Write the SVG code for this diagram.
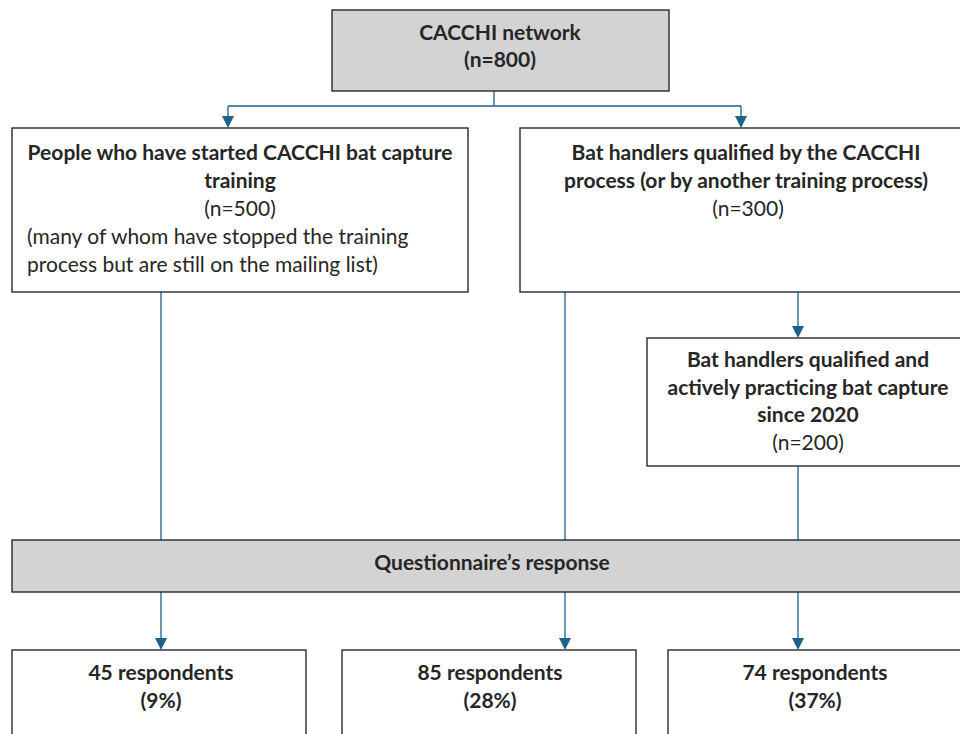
<svg xmlns="http://www.w3.org/2000/svg" width="960" height="734" viewBox="0 0 960 734">
<defs>
<style>
.box{fill:#ffffff;stroke:#1a1a1a;stroke-width:1.3}
.gbox{fill:#d3d3d3;stroke:#1a1a1a;stroke-width:1.3}
.t{font-family:Lato,Carlito,"Liberation Sans",sans-serif;font-size:21px;fill:#262626;text-anchor:middle}
.b{font-weight:bold}
.l{text-anchor:start}
.c{fill:none;stroke:#1d6288;stroke-width:1.3}
.ah{fill:#1d6288}
</style>
</defs>
<g id="connectors">
<path class="c" d="M494,91 V106 M228,106 H741"/>
<path class="c" d="M228,106 V116"/>
<path class="ah" d="M222,116 L234,116 L228,128 Z"/>
<path class="c" d="M741,106 V116"/>
<path class="ah" d="M735,116 L747,116 L741,128 Z"/>
<path class="c" d="M161,292 V540"/>
<path class="c" d="M565,292 V540"/>
<path class="c" d="M798,292 V326"/>
<path class="ah" d="M792,326 L804,326 L798,338 Z"/>
<path class="c" d="M798,466 V540"/>
<path class="c" d="M161,592 V638"/>
<path class="ah" d="M155,638 L167,638 L161,650 Z"/>
<path class="c" d="M565,592 V638"/>
<path class="ah" d="M559,638 L571,638 L565,650 Z"/>
<path class="c" d="M798,592 V638"/>
<path class="ah" d="M792,638 L804,638 L798,650 Z"/>
</g>
<g id="network">
<rect class="gbox" x="332" y="10" width="337" height="81"/>
<text class="t b" x="500" y="40">CACCHI network</text>
<text class="t b" x="500" y="67">(n=800)</text>
</g>
<g id="started">
<rect class="box" x="12" y="128" width="456" height="164"/>
<text class="t b" x="240" y="160">People who have started CACCHI bat capture</text>
<text class="t b" x="240" y="188">training</text>
<text class="t" x="240" y="216">(n=500)</text>
<text class="t l" x="27" y="244">(many of whom have stopped the training</text>
<text class="t l" x="27" y="272">process but are still on the mailing list)</text>
</g>
<g id="qualified">
<rect class="box" x="520" y="128" width="450" height="164"/>
<text class="t b" x="746" y="160">Bat handlers qualified by the CACCHI</text>
<text class="t b" x="746" y="188">process (or by another training process)</text>
<text class="t" x="748" y="216">(n=300)</text>
</g>
<g id="active">
<rect class="box" x="647" y="338" width="323" height="128"/>
<text class="t b" x="808" y="367">Bat handlers qualified and</text>
<text class="t b" x="808" y="395">actively practicing bat capture</text>
<text class="t b" x="808" y="422">since 2020</text>
<text class="t" x="808" y="450">(n=200)</text>
</g>
<g id="questionnaire">
<rect class="gbox" x="12" y="540" width="958" height="52"/>
<text class="t b" x="492" y="570">Questionnaire’s response</text>
</g>
<g id="r45">
<rect class="box" x="12" y="650" width="294" height="100"/>
<text class="t b" x="161" y="680">45 respondents</text>
<text class="t b" x="161" y="708">(9%)</text>
</g>
<g id="r85">
<rect class="box" x="342" y="650" width="294" height="100"/>
<text class="t b" x="490" y="680">85 respondents</text>
<text class="t b" x="490" y="708">(28%)</text>
</g>
<g id="r74">
<rect class="box" x="668" y="650" width="302" height="100"/>
<text class="t b" x="815" y="680">74 respondents</text>
<text class="t b" x="815" y="708">(37%)</text>
</g>
</svg>
